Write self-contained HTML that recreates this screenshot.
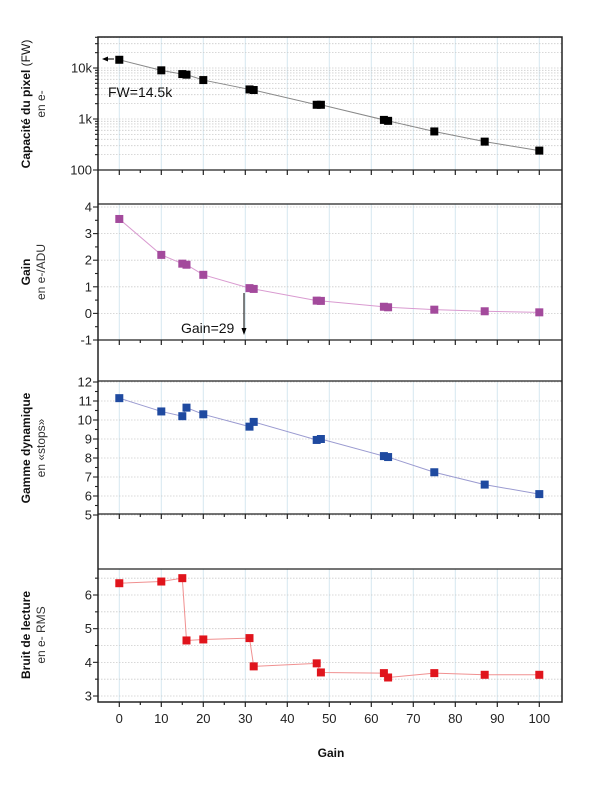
<!DOCTYPE html>
<html><head><meta charset="utf-8"><style>
html,body{margin:0;padding:0;background:#fff;}
svg{display:block;font-family:"Liberation Sans",sans-serif;}
</style></head><body>
<svg id="s" width="600" height="802" xmlns="http://www.w3.org/2000/svg"></svg>
<script>
const s=document.getElementById('s');let h='';
const L=98,R=562;const X=v=>119.3+v*4.2;
const xs=[0,10,15,16,20,31,32,47,48,63,64,75,87,100];
// grids
function vgrid(t,b){for(let v=0;v<=100;v+=10)h+=`<line x1="${X(v)}" y1="${t}" x2="${X(v)}" y2="${b}" stroke="#d6e8f0" stroke-width="1"/>`;}
function hg(y){h+=`<line x1="${L}" y1="${y}" x2="${R}" y2="${y}" stroke="#ccc" stroke-width="0.8" stroke-dasharray="1.5,1.5"/>`;}
// panel 1 log
const Y1=v=>170-(Math.log10(v)-2)*51;
vgrid(37,170);
for(let d=100;d<=10000;d*=10)for(let k=1;k<=9;k++){let v=d*k;if(Y1(v)>37)hg(Y1(v));}
// panel2
const Y2=v=>207+(4-v)*26.6;vgrid(204,340);for(let v=-1;v<=4;v++)hg(Y2(v));
const Y3=v=>382+(12-v)*19;vgrid(381,514);for(let v=5;v<=12;v++)hg(Y3(v));
const Y4=v=>595+(6-v)*33.67;vgrid(569,702);for(let v=3;v<=6.5;v+=0.5)hg(Y4(v));
// frame
h+=`<rect x="${L}" y="37" width="${R-L}" height="665" fill="none" stroke="#222" stroke-width="1.5"/>`;
[170,204,340,381,514,569].forEach(y=>h+=`<line x1="${L}" y1="${y}" x2="${R}" y2="${y}" stroke="#222" stroke-width="1.3"/>`);
// x ticks
[170,340,514,702].forEach(y=>{for(let v=0;v<=100;v+=5)h+=`<line x1="${X(v)}" y1="${y}" x2="${X(v)}" y2="${y+(v%10?3:5)}" stroke="#222" stroke-width="1.2"/>`;});
for(let v=0;v<=100;v+=10)h+=`<text x="${X(v)}" y="723" font-size="13" text-anchor="middle" fill="#222">${v}</text>`;
// y ticks
function yt(y,lab,maj){h+=`<line x1="${L-(maj?5:3)}" y1="${y}" x2="${L}" y2="${y}" stroke="#222" stroke-width="1.1"/>`;if(lab!==null)h+=`<text x="${L-6}" y="${y+4.5}" font-size="13" text-anchor="end" fill="#222">${lab}</text>`;}
for(let d=100;d<=10000;d*=10)for(let k=1;k<=9;k++){let v=d*k;if(Y1(v)>37)yt(Y1(v),k==1?(d==100?'100':d==1000?'1k':'10k'):null,k==1);}
for(let v=-1;v<=4;v+=0.5)yt(Y2(v),Number.isInteger(v)?v:null,Number.isInteger(v));
for(let v=5;v<=12;v+=0.5)yt(Y3(v),Number.isInteger(v)?v:null,Number.isInteger(v));
for(let v=3;v<=6.5;v+=0.5)yt(Y4(v),Number.isInteger(v)?v:null,Number.isInteger(v));
// series
function ser(ys,Y,col,lc){let p=xs.map((x,i)=>`${X(x)},${Y(ys[i])}`).join(' ');h+=`<polyline points="${p}" fill="none" stroke="${lc}" stroke-width="1"/>`;xs.forEach((x,i)=>h+=`<rect x="${X(x)-4}" y="${Y(ys[i])-4}" width="8" height="8" fill="${col}"/>`);}
ser([14500,9000,7600,7400,5800,3800,3700,1900,1900,960,920,570,360,240],Y1,'#000','#888');
ser([3.55,2.2,1.87,1.83,1.45,0.95,0.92,0.48,0.47,0.25,0.23,0.14,0.08,0.04],Y2,'#a34a9c','#d99ad0');
ser([11.15,10.45,10.2,10.65,10.3,9.65,9.9,8.95,9.0,8.1,8.05,7.25,6.6,6.1],Y3,'#1f4aa0','#9a9ad0');
ser([6.35,6.4,6.5,4.65,4.68,4.72,3.88,3.97,3.7,3.68,3.55,3.68,3.63,3.63],Y4,'#e0141c','#f09090');
// annotations
h+=`<line x1="114" y1="59" x2="106" y2="59" stroke="#000" stroke-width="1"/><polygon points="102,59 108,56.5 108,61.5" fill="#000"/>`;
h+=`<text x="108" y="97" font-size="14" fill="#111">FW=14.5k</text>`;
h+=`<line x1="244" y1="293" x2="244" y2="330" stroke="#000" stroke-width="1"/><polygon points="244,335 241.5,328 246.5,328" fill="#000"/>`;
h+=`<text x="181" y="333" font-size="14" fill="#111">Gain=29</text>`;
// y labels
function yl(cy,b,n){h+=`<g transform="translate(30,${cy}) rotate(-90)"><text x="0" y="0" font-size="12" font-weight="bold" text-anchor="middle" fill="#111">${b}</text><text x="0" y="15" font-size="12" text-anchor="middle" fill="#333">${n}</text></g>`;}
yl(104,'Capacité du pixel <tspan font-weight="normal">(FW)</tspan>','en e-');
yl(272,'Gain','en e-/ADU');
yl(448,'Gamme dynamique','en «stops»');
yl(635,'Bruit de lecture','en e- RMS');
h+=`<text x="331" y="757" font-size="12" font-weight="bold" text-anchor="middle" fill="#111">Gain</text>`;
s.innerHTML=h;
</script>
</body></html>
